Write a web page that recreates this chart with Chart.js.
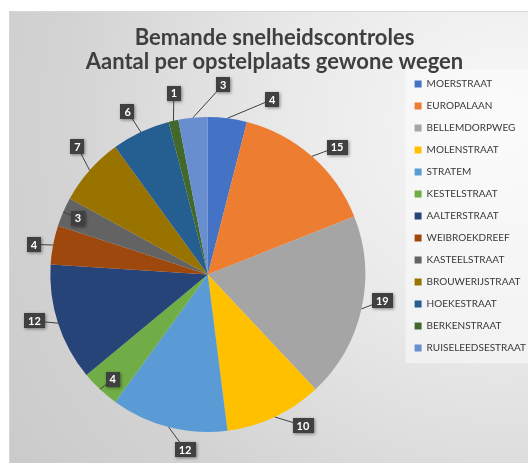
<!DOCTYPE html>
<html>
<head>
<meta charset="utf-8">
<script src="https://cdn.jsdelivr.net/npm/chart.js@4/dist/chart.umd.min.js"></script>
<style>
  html, body { margin: 0; padding: 0; background: #fff; overflow: hidden; width: 528px; height: 463px; }
  #frame {
    position: absolute; left: 9px; top: 11px; width: 600px; height: 500px;
    border-left: 1px solid #d6d6d6; border-top: 1px solid #d6d6d6;
    background: radial-gradient(circle at 82% 22%, #f8f8f8 0%, #e9e9e9 35%, #d3d3d3 70%, #c9c9c9 100%);
  }
  #wrap { position: absolute; left: 0; top: 0; width: 545px; height: 463px; }
</style>
</head>
<body>
<div id="frame"></div>
<div id="wrap"><canvas id="myChart"></canvas></div>
<script>
const straten = ['MOERSTRAAT', 'EUROPALAAN', 'BELLEMDORPWEG', 'MOLENSTRAAT', 'STRATEM',
  'KESTELSTRAAT', 'AALTERSTRAAT', 'WEIBROEKDREEF', 'KASTEELSTRAAT', 'BROUWERIJSTRAAT',
  'HOEKESTRAAT', 'BERKENSTRAAT', 'RUISELEEDSESTRAAT'];
const aantal = [4, 15, 19, 10, 12, 4, 12, 4, 3, 7, 6, 1, 3];
const kleuren = ['#4472C4', '#ED7D31', '#A5A5A5', '#FFC000', '#5B9BD5', '#70AD47', '#264478',
  '#9E480E', '#636363', '#997300', '#255E91', '#43682B', '#698ED0'];

// waar de labels ongeveer staan (graden verschuiving, afstand buiten de rand)
const labelPlaats = {
  0: {shift: 13, dist: 29},
  1: {shift: 4, dist: 24},
  2: {shift: -4, dist: 19},
  3: {shift: -7, dist: 21},
  4: {shift: -7, dist: 19},
  5: {shift: -1, dist: -16},
  6: {shift: 3, dist: 22},
  7: {shift: -1, dist: 19},
  8: {shift: 0, dist: -16},
  9: {shift: 3, dist: 25},
  10: {shift: -1, dist: 24},
  11: {shift: 2, dist: 27},
  12: {shift: 10, dist: 33}
};

const legendBg = {
  id: 'legendBg',
  beforeDraw(chart) {
    const lg = chart.legend;
    if (!lg || !lg.legendHitBoxes.length) return;
    const first = lg.legendHitBoxes[0];
    const last = lg.legendHitBoxes[lg.legendHitBoxes.length - 1];
    const c = chart.ctx;
    c.save();
    c.fillStyle = 'rgba(255,255,255,0.45)';
    c.fillRect(lg.left + 3, first.top - 10, chart.width, last.top + last.height - first.top + 20);
    c.restore();
  }
};

const callouts = {
  id: 'callouts',
  afterDatasetsDraw(chart) {
    const c = chart.ctx;
    const meta = chart.getDatasetMeta(0);
    c.save();
    c.font = 'bold 11px Lato';
    c.textAlign = 'center';
    c.textBaseline = 'middle';
    meta.data.forEach((arc, i) => {
      const p = arc.getProps(['x', 'y', 'startAngle', 'endAngle', 'outerRadius'], true);
      const mid = (p.startAngle + p.endAngle) / 2;
      const pl = labelPlaats[i] || {shift: 0, dist: 22};
      const ang = mid + pl.shift * Math.PI / 180;
      const d = p.outerRadius + pl.dist;
      const lx = p.x + Math.cos(ang) * d;
      const ly = p.y + Math.sin(ang) * d;
      const ex = p.x + Math.cos(mid) * p.outerRadius;
      const ey = p.y + Math.sin(mid) * p.outerRadius;
      const txt = String(aantal[i]);
      const w = c.measureText(txt).width + 8;
      const h = 15;
      c.strokeStyle = '#404040';
      c.lineWidth = 1;
      c.beginPath();
      c.moveTo(lx, ly);
      c.lineTo(ex, ey);
      c.stroke();
      c.shadowColor = 'rgba(0,0,0,0.45)';
      c.shadowBlur = 3;
      c.shadowOffsetX = 1;
      c.shadowOffsetY = 1;
      c.fillStyle = '#404040';
      c.fillRect(Math.round(lx - w / 2), Math.round(ly - h / 2), Math.round(w), h);
      c.shadowColor = 'transparent';
      c.fillStyle = '#ffffff';
      c.fillText(txt, lx, ly + 0.5);
    });
    c.restore();
  }
};

const ctx = document.getElementById('myChart');
new Chart(ctx, {
  type: 'pie',
  data: {
    labels: straten,
    datasets: [{
      data: aantal,
      backgroundColor: kleuren,
      borderWidth: 0
    }]
  },
  options: {
    responsive: true,
    maintainAspectRatio: false,
    animation: false,
    layout: { padding: { left: 13, right: 9, top: 0, bottom: 31 } },
    plugins: {
      title: {
        display: true,
        text: ['Bemande snelheidscontroles', 'Aantal per opstelplaats gewone wegen'],
        color: '#3f3f3f',
        font: { family: 'Lato', size: 22, weight: 'bold', lineHeight: '24px' },
        padding: { top: 26, bottom: 43 }
      },
      legend: {
        position: 'right',
        labels: {
          boxWidth: 7,
          boxHeight: 7,
          padding: 12,
          color: '#383838',
          font: { family: 'Lato', size: 10 }
        }
      },
      tooltip: { enabled: false }
    }
  },
  plugins: [legendBg, callouts]
});
</script>
</body>
</html>
